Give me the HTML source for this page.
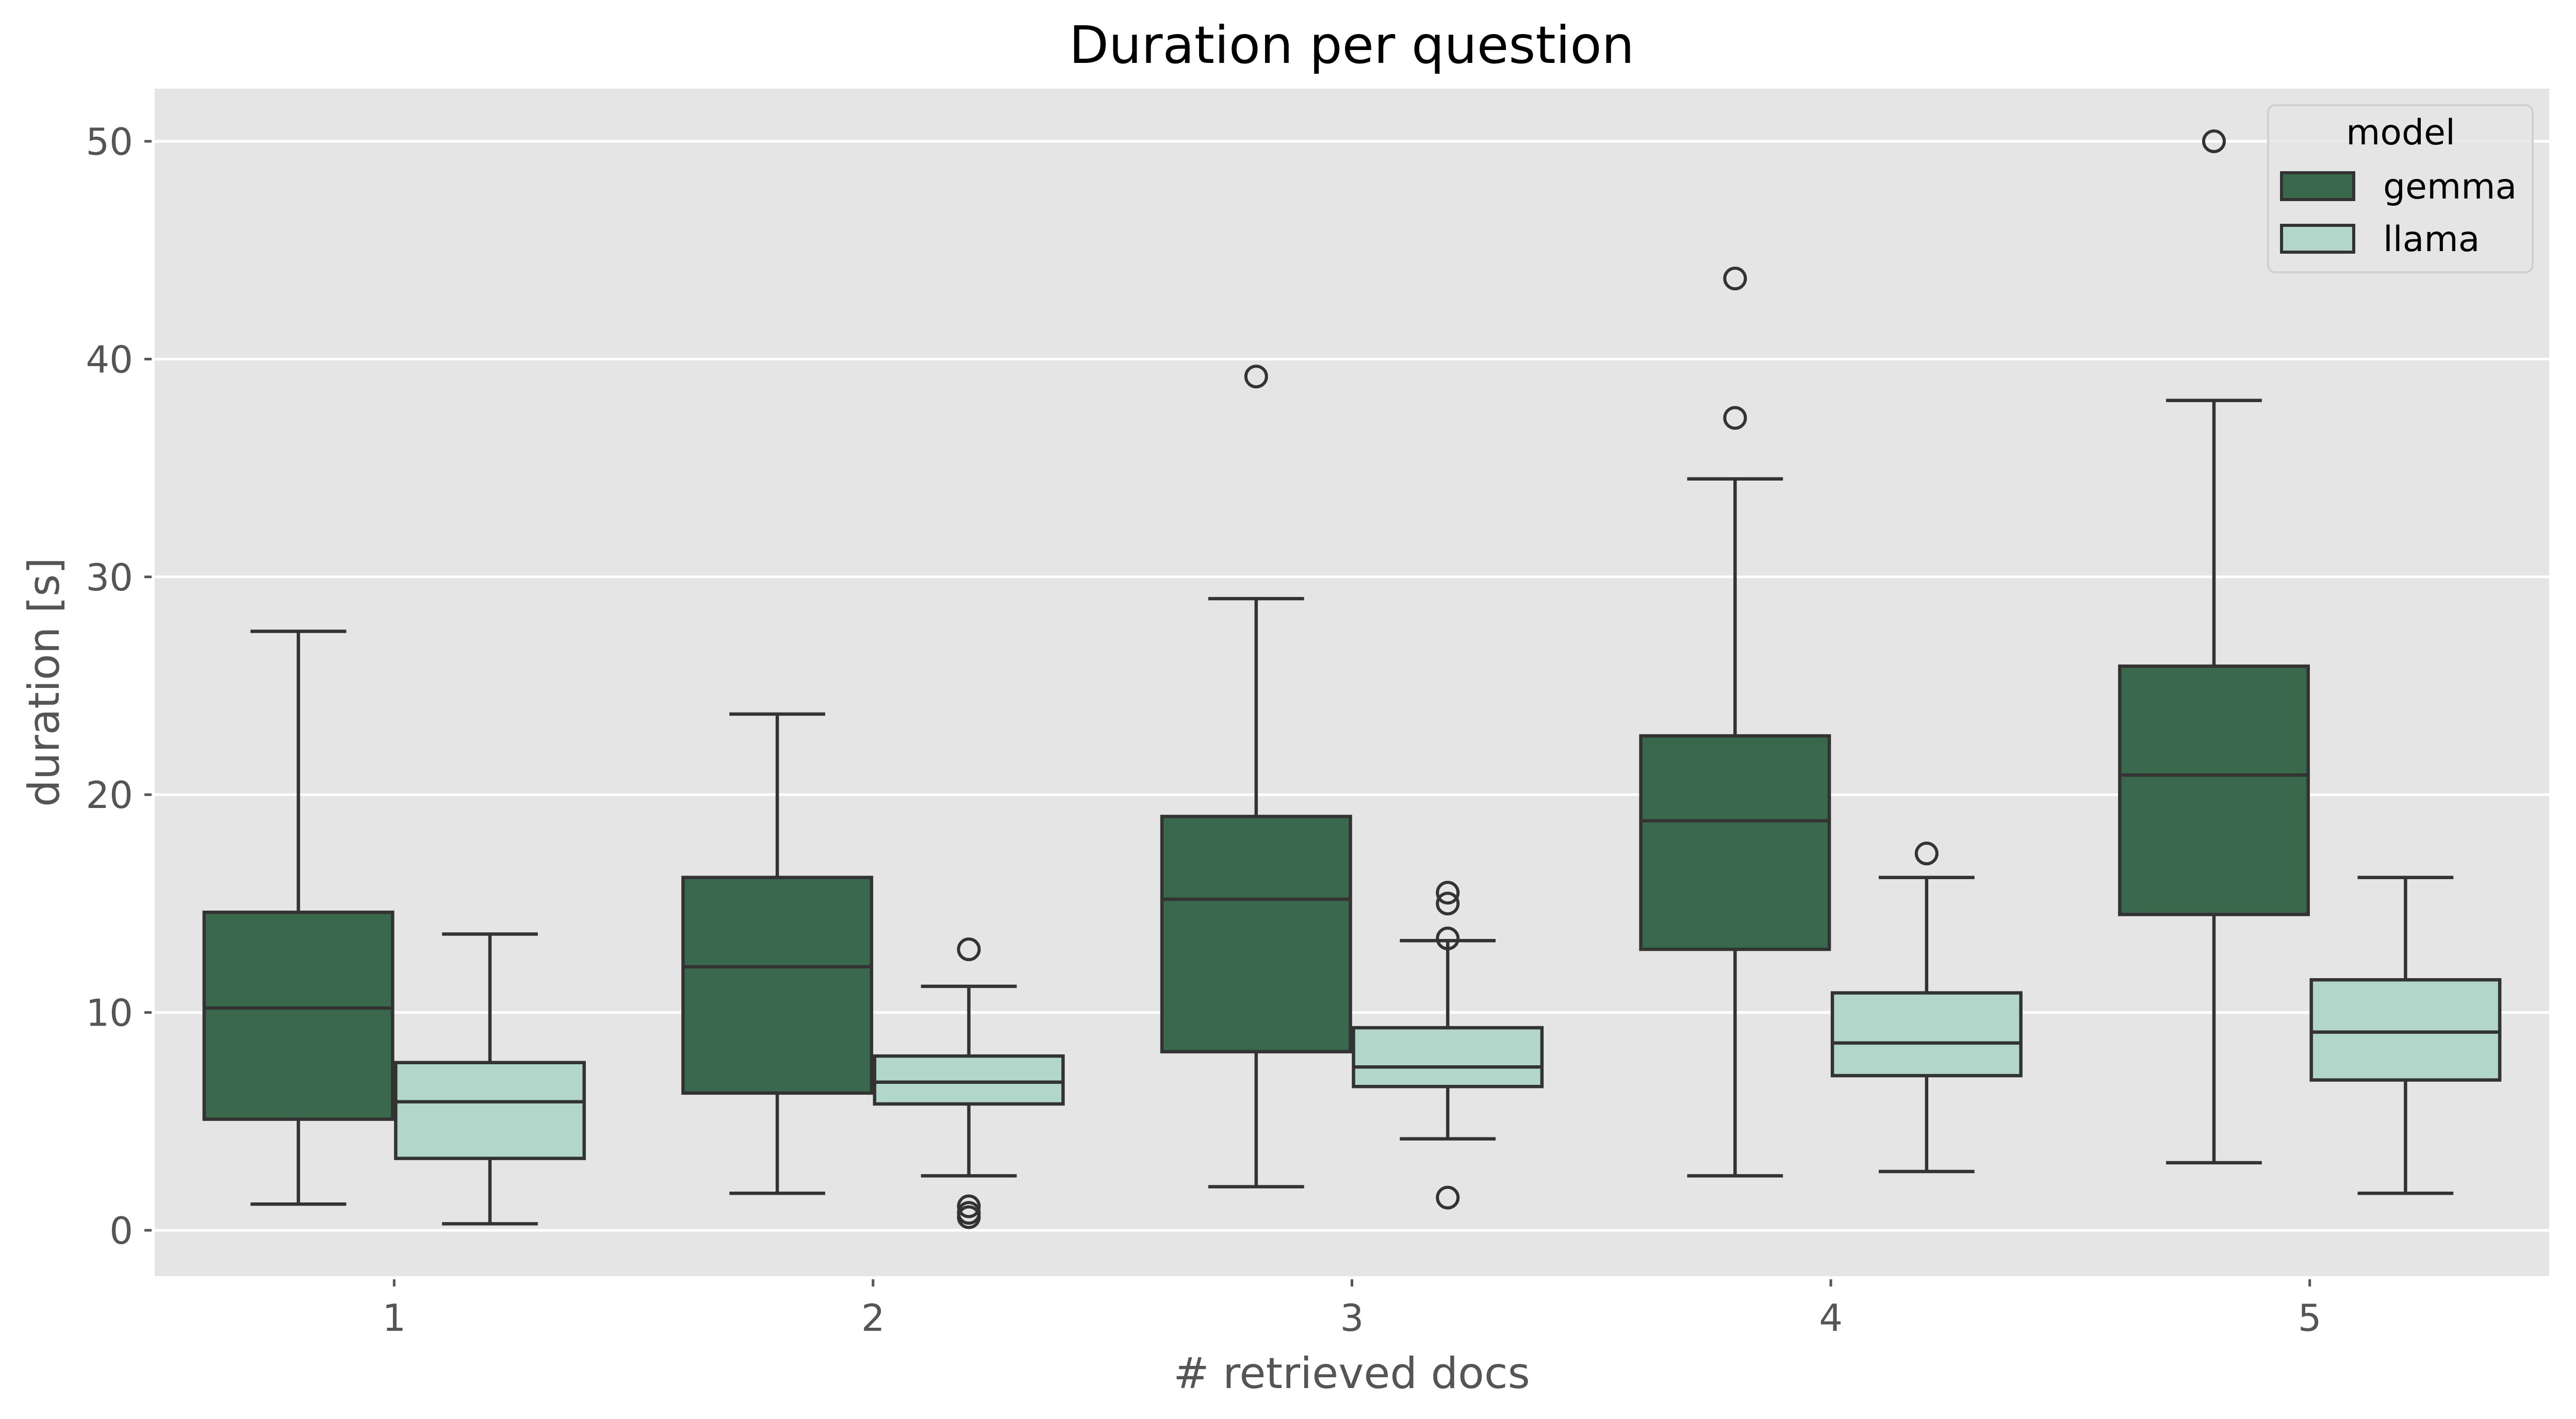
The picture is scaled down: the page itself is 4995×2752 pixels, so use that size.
<!DOCTYPE html>
<html><head><meta charset="utf-8"><style>html,body{margin:0;padding:0;background:#fff}svg{display:block}</style></head>
<body>
<svg id="chart" xmlns="http://www.w3.org/2000/svg" width="4995" height="2752" viewBox="0 0 4995 2752" font-family="'DejaVu Sans','Liberation Sans',sans-serif">
<rect x="0" y="0" width="4995" height="2752" fill="#fff"/>
<rect x="300" y="172" width="4643" height="2303" fill="#e5e5e5"/>
<g id="grid"></g>
<g id="yticks"></g>
<g id="xticks"></g>
<g id="boxes"></g>
<text x="2621" y="122" font-size="100" text-anchor="middle" fill="#000">Duration per question</text>
<text x="2621" y="2692" font-size="83" text-anchor="middle" fill="#555"># retrieved docs</text>
<text x="114" y="1323" font-size="83" text-anchor="middle" fill="#555" transform="rotate(-90 114 1323)">duration [s]</text>
<g>
<rect x="4398" y="204" width="513" height="324" rx="14" fill="#e5e5e5" fill-opacity="0.85" stroke="#d0d0d0" stroke-width="4"/>
<text x="4655" y="280" font-size="68" text-anchor="middle" fill="#000">model</text>
<rect x="4424" y="335" width="140" height="52" fill="#3a684d" stroke="#333" stroke-width="6"/>
<text x="4621" y="385" font-size="68" fill="#000">gemma</text>
<rect x="4424" y="437" width="140" height="52" fill="#b3d6cb" stroke="#333" stroke-width="6"/>
<text x="4621" y="487" font-size="68" fill="#000">llama</text>
</g>
</svg>
<script>
const categories = ["1","2","3","4","5"];
const yTicks = [0,10,20,30,40,50];
const gemmaLow = [1.2,1.7,2.0,2.5,3.1];
const gemmaQ1 = [5.1,6.3,8.2,12.9,14.5];
const gemmaMed = [10.2,12.1,15.2,18.8,20.9];
const gemmaQ3 = [14.6,16.2,19.0,22.7,25.9];
const gemmaHigh = [27.5,23.7,29.0,34.5,38.1];
const gemmaOut = [[],[],[39.2],[43.7,37.3],[50.0]];
const llamaLow = [0.3,2.5,4.2,2.7,1.7];
const llamaQ1 = [3.3,5.8,6.6,7.1,6.9];
const llamaMed = [5.9,6.8,7.5,8.6,9.1];
const llamaQ3 = [7.7,8.0,9.3,10.9,11.5];
const llamaHigh = [13.6,11.2,13.3,16.2,16.2];
const llamaOut = [[],[12.9,1.1,0.8,0.6],[15.5,15.0,13.4,1.5],[17.3],[]];

const NS = "http://www.w3.org/2000/svg";
const PL=300, PR=4943, PT=172, PB=2475;
const Y0PX=2386, Y50PX=274;
function yScale(v){ return Y0PX + (Y50PX-Y0PX)*v/50; }
const band=(PR-PL)/categories.length;
function xCenter(i){ return PL + band*(i+0.5); }
const boxW = band*0.8/2;
function mk(tag, attrs, parent){ const e=document.createElementNS(NS,tag); for(const k in attrs) e.setAttribute(k,attrs[k]); parent.appendChild(e); return e; }

const grid=document.getElementById('grid'), yt=document.getElementById('yticks'), xt=document.getElementById('xticks'), bx=document.getElementById('boxes');
yTicks.forEach(t=>{
  const y=yScale(t);
  const g=mk('line',{x1:PL,x2:PR,y1:y,y2:y,stroke:'#fff',"stroke-width":5},grid);
  
  
  const tk=mk('line',{x1:PL-20,x2:PL-6,y1:y,y2:y,stroke:'#555',"stroke-width":5},yt);
  
  
  const tx=mk('text',{x:PL-42,y:y+26,"font-size":72,"text-anchor":"end",fill:'#555'},yt);
  tx.textContent=t;
  
  
});
categories.forEach((c,i)=>{
  const x=xCenter(i);
  const tk=mk('line',{x1:x,x2:x,y1:PB+6,y2:PB+20,stroke:'#555',"stroke-width":5},xt);
  
  
  const tx=mk('text',{x:x,y:PB+106,"font-size":72,"text-anchor":"middle",fill:'#555'},xt);
  tx.textContent=c;
  
  
});
function drawBox(i, x0, fill, lo,q1,md,q3,hi,outs,name){
  const g=mk('g',{},bx);
  
  
  const xm=x0+boxW/2, cw=boxW/4;
  const L='#333', W=6.5;
  mk('line',{x1:xm,x2:xm,y1:yScale(q3),y2:yScale(hi),stroke:L,"stroke-width":W},g);
  mk('line',{x1:xm,x2:xm,y1:yScale(q1),y2:yScale(lo),stroke:L,"stroke-width":W},g);
  mk('line',{x1:xm-cw,x2:xm+cw,y1:yScale(hi),y2:yScale(hi),stroke:L,"stroke-width":W},g);
  mk('line',{x1:xm-cw,x2:xm+cw,y1:yScale(lo),y2:yScale(lo),stroke:L,"stroke-width":W},g);
  mk('rect',{x:x0+3,y:yScale(q3),width:boxW-6,height:yScale(q1)-yScale(q3),fill:fill,stroke:L,"stroke-width":W},g);
  mk('line',{x1:x0+3,x2:x0+boxW-3,y1:yScale(md),y2:yScale(md),stroke:L,"stroke-width":W},g);
  outs.forEach(o=>{ mk('circle',{cx:xm,cy:yScale(o),r:20,fill:'none',stroke:L,"stroke-width":6},g); });
}
categories.forEach((c,i)=>{
  const x=xCenter(i);
  drawBox(i, x-boxW, '#3a684d', gemmaLow[i],gemmaQ1[i],gemmaMed[i],gemmaQ3[i],gemmaHigh[i],gemmaOut[i],'gemma');
  drawBox(i, x, '#b3d6cb', llamaLow[i],llamaQ1[i],llamaMed[i],llamaQ3[i],llamaHigh[i],llamaOut[i],'llama');
});
</script>
</body></html>
